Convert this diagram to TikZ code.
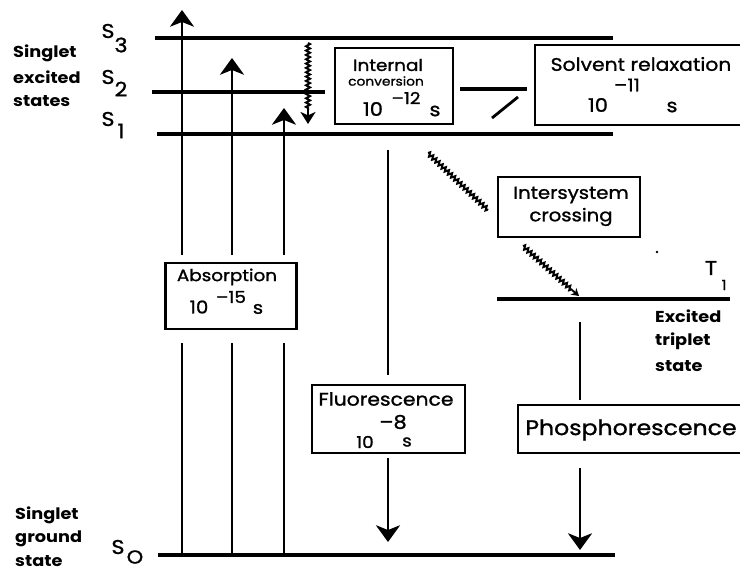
\documentclass[tikz,border=0pt]{standalone}
\usepackage{fontspec}
\setmainfont{Poppins}
\newfontfamily\pop{Poppins}[FakeStretch=1.12,FakeBold=1.2]
\newfontfamily\popb{Poppins}[FakeStretch=1.12]
\usetikzlibrary{arrows.meta,decorations.pathmorphing}
\begin{document}
\begin{tikzpicture}[x=0.03cm,y=-0.03cm,
  level/.style={line width=2.6pt},
  trans/.style={line width=2.2pt},
  uptip/.style={-{Stealth[length=0.5cm,width=0.72cm,inset=0.14cm]}},
  wavy/.style={line width=1.7pt, decorate, decoration={zigzag,amplitude=0.06cm,segment length=0.13cm}},
  pbox/.style 2 args={draw,line width=2pt,inner sep=0pt,minimum width=#1*0.03cm,minimum height=#2*0.03cm},
  side/.style={font=\popb\bfseries\fontsize{13.5}{14}\selectfont, anchor=west, inner sep=0pt},
  slbl/.style={font=\pop\fontsize{17}{18}\selectfont, inner sep=0pt},
  bt/.style={font=\pop\fontsize{#1}{#1}\selectfont, inner sep=0pt},
]
\clip (0,0) rectangle (740,571);
\fill[white] (0,0) rectangle (740,571);

% energy levels
\coordinate (s3a) at (155,38);  \coordinate (s3b) at (613,38);
\coordinate (s2a) at (152,92);  \coordinate (s2b) at (325,92);
\coordinate (s2c) at (460,89);  \coordinate (s2d) at (527,89);
\coordinate (s1a) at (157,134); \coordinate (s1b) at (613,134);
\coordinate (t1a) at (497,299); \coordinate (t1b) at (730,299);
\coordinate (s0a) at (158,555); \coordinate (s0b) at (615,555);
\draw[level] (s3a) -- (s3b);
\draw[level] (s2a) -- (s2b);
\draw[level] (s2c) -- (s2d);
\draw[level] (s1a) -- (s1b);
\draw[level] (t1a) -- (t1b);
\draw[level] (s0a) -- (s0b);

% level labels
\node[slbl] (S3) at (108,31) {S}; \node[slbl] (S3i) at (121,45) {3};
\node[slbl] (S2) at (108,77) {S}; \node[slbl] (S2i) at (121,89) {2};
\node[slbl] (S1) at (108,119) {S}; \node[slbl] (S1i) at (121,131) {1};
\node[slbl] (S0) at (118,547) {S}; \node[slbl,font=\pop\fontsize{16}{16}\selectfont] (S0i) at (135,557) {O};
\node[slbl] (T1) at (711,268) {T}; \node[slbl,font=\pop\fontsize{12}{12}\selectfont] (T1i) at (724,285) {1};

% side labels
\node[side] (se1) at (13,53) {Singlet};
\node[side] (se2) at (13,77) {excited};
\node[side] (se3) at (13,101) {states};
\node[side] (sg1) at (15,515) {Singlet};
\node[side] (sg2) at (15,539) {ground};
\node[side] (sg3) at (15,561) {state};
\node[side] (tr1) at (655,316) {Excited};
\node[side] (tr2) at (655,341) {triplet};
\node[side] (tr3) at (655,366) {state};

% boxes
\node[pbox={131}{66}] (abs) at (231,296) {};
\node[bt=14] (absT) at (227,277) {Absorption};
\node[bt=15] (abs10) at (199,307) {10};
\node[bt=14] (absE) at (231,297) {–15};
\node[bt=15] (absS) at (258,309) {s};

\node[pbox={118}{76}] (ic) at (394,86) {};
\node[bt=14] (icT) at (388,65) {Internal};
\node[bt=10.5] (icT2) at (386,81) {conversion};
\node[bt=16] (ic10) at (373,109) {10};
\node[bt=14] (icE) at (406,98) {–12};
\node[bt=16] (icS) at (435,111) {s};

\node[pbox={225}{80}] (sr) at (647.5,85) {};
\node[bt=15.5] (srT) at (641,64) {Solvent relaxation};
\node[bt=15] (srE) at (627,85) {–11};
\node[bt=16] (sr10) at (598,105) {10};
\node[bt=16] (srS) at (672,107) {s};

\node[pbox={142}{60}] (isc) at (569,207) {};
\node[bt=15] (iscT) at (571,195) {Intersystem};
\node[bt=15] (iscT2) at (571,217) {crossing};

\node[pbox={153}{68}] (fl) at (388.5,419) {};
\node[bt=15.5] (flT) at (386,399) {Fluorescence};
\node[bt=16] (flE) at (393,422) {–8};
\node[bt=14] (fl10) at (365,442) {10};
\node[bt=14] (flS) at (407,442) {s};

\node[pbox={242}{48}] (ph) at (639,429) {};
\node[bt=18] (phT) at (631,430) {Phosphorescence};

% absorption arrows
\coordinate (a1b) at (182,555); \coordinate (a1m) at (182,343); \coordinate (a1n) at (182,255); \coordinate (a1t) at (182,10);
\coordinate (a2b) at (232,555); \coordinate (a2m) at (232,343); \coordinate (a2n) at (232,255); \coordinate (a2t) at (232,58);
\coordinate (a3b) at (284,555); \coordinate (a3m) at (284,343); \coordinate (a3n) at (284,255); \coordinate (a3t) at (284,108);
\draw[trans] (a1b) -- (a1m); \draw[trans,uptip] (a1n) -- (a1t);
\draw[trans] (a2b) -- (a2m); \draw[trans,uptip] (a2n) -- (a2t);
\draw[trans] (a3b) -- (a3m); \draw[trans,uptip] (a3n) -- (a3t);

% internal conversion wavy arrow
\coordinate (w1a) at (308,43); \coordinate (w1b) at (308,110); \coordinate (w1c) at (308,124);
\draw[wavy] (w1a) -- (w1b);
\draw[line width=1.8pt,-{Stealth[length=0.36cm,width=0.45cm,inset=0.1cm]}] (w1b) -- (w1c);

% slash between boxes
\coordinate (sl1) at (492,118); \coordinate (sl2) at (518,97);
\draw[line width=2.4pt] (sl1) -- (sl2);

% fluorescence
\coordinate (f1) at (388,150); \coordinate (f2) at (388,375);
\coordinate (f3) at (388,458); \coordinate (f4) at (388,542);
\draw[trans] (f1) -- (f2);
\draw[trans,uptip] (f3) -- (f4);

% intersystem crossing
\coordinate (i1) at (428,153); \coordinate (i2) at (488,210);
\coordinate (i3) at (523,246); \coordinate (i4) at (572,290); \coordinate (i5) at (579,296);
\draw[wavy] (i1) -- (i2);
\draw[wavy] (i3) -- (i4);
\draw[line width=1.6pt,-{Stealth[length=0.22cm,width=0.26cm]}] (i4) -- (i5);
\fill (657,252) circle (1.3);

% phosphorescence
\coordinate (p1) at (580,322); \coordinate (p2) at (580,400);
\coordinate (p3) at (580,468); \coordinate (p4) at (580,550);
\draw[trans] (p1) -- (p2);
\draw[trans,uptip] (p3) -- (p4);
\end{tikzpicture}
\end{document}
